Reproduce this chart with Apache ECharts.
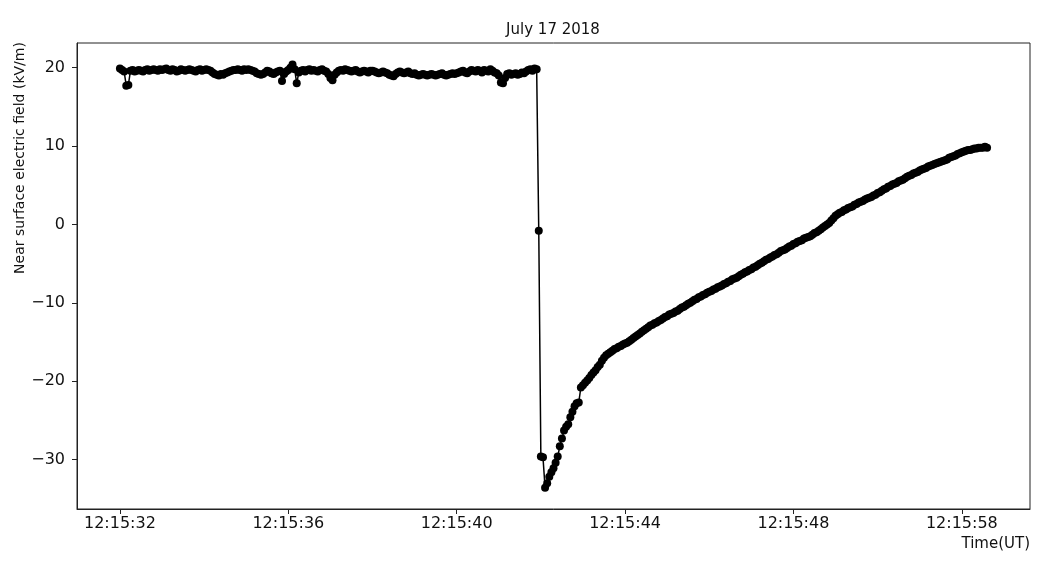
<!DOCTYPE html>
<html><head><meta charset="utf-8">
<script src="https://cdn.jsdelivr.net/npm/echarts@6/dist/echarts.min.js"></script>
<style>html,body{margin:0;padding:0;background:#fff}#c{width:1037px;height:570px}</style>
</head><body><div id="c"></div>
<script>
// seconds after 12:15:32 UT between consecutive samples
const sampleStep = 0.05;
const xTickValues = [0, 4, 8, 12, 16, 20];
const xTickLabels = ['12:15:32', '12:15:36', '12:15:40', '12:15:44', '12:15:48', '12:15:58'];
const yTickValues = [-30, -20, -10, 0, 10, 20];

// field (kV/m) before the flash
const preStrikeValues = [
  19.9, 19.7, 19.5, 17.7, 17.8, 19.6, 19.7, 19.5, 19.6, 19.7, 19.6, 19.5, 19.7, 19.8, 19.6, 19.7, 19.8, 19.7, 19.6, 19.8,
  19.7, 19.8, 19.9, 19.7, 19.6, 19.8, 19.7, 19.5, 19.6, 19.8, 19.7, 19.6, 19.7, 19.8, 19.7, 19.6, 19.5, 19.7, 19.8, 19.6,
  19.7, 19.8, 19.7, 19.6, 19.4, 19.2, 19.1, 19.0, 19.2, 19.1, 19.3, 19.4, 19.5, 19.6, 19.7, 19.7, 19.8, 19.7, 19.6, 19.8,
  19.7, 19.8, 19.7, 19.6, 19.5, 19.3, 19.2, 19.1, 19.2, 19.4, 19.6, 19.5, 19.3, 19.2, 19.4, 19.5, 19.6, 18.3, 19.2, 19.5,
  19.7, 20.0, 20.4, 19.8, 18.0, 19.4, 19.6, 19.7, 19.5, 19.7, 19.8, 19.6, 19.7, 19.6, 19.5, 19.7, 19.8, 19.6, 19.5, 19.2,
  18.7, 18.4, 19.1, 19.4, 19.6, 19.7, 19.6, 19.8, 19.7, 19.6, 19.5, 19.6, 19.7, 19.5, 19.4, 19.5, 19.6, 19.5, 19.4, 19.6,
  19.6, 19.5, 19.4, 19.3, 19.4, 19.5, 19.4, 19.3, 19.1, 19.0, 18.9, 19.2, 19.4, 19.5, 19.4, 19.3, 19.4, 19.5, 19.3, 19.2,
  19.3, 19.1, 19.0, 19.1, 19.2, 19.1, 19.0, 19.1, 19.2, 19.1, 19.0, 19.1, 19.2, 19.3, 19.1, 19.0, 19.1, 19.2, 19.3, 19.2,
  19.3, 19.4, 19.5, 19.6, 19.4, 19.3, 19.5, 19.7, 19.6, 19.5, 19.7, 19.6, 19.4, 19.7, 19.6, 19.5, 19.8, 19.6, 19.4, 19.3,
  19.0, 18.1, 18.0, 18.7, 19.2, 19.3, 19.1, 19.2, 19.3, 19.1, 19.2, 19.4, 19.3, 19.5, 19.7, 19.8, 19.6, 19.9, 19.8
];
// field change during the flash
const dropValues = [-0.8, -29.6, -29.7];
// recovery after the flash
const recoveryValues = [
  -33.6, -33.0, -32.2, -31.6, -31.1, -30.4, -29.6, -28.3, -27.3, -26.3,
  -25.8, -25.5, -24.6, -23.9, -23.2, -22.8, -22.7, -20.8, -20.5, -20.2,
  -19.9, -19.6, -19.2, -18.9, -18.6, -18.2, -17.9, -17.4, -17.0, -16.7,
  -16.5, -16.3, -16.1, -15.9, -15.8, -15.6, -15.5, -15.3, -15.2, -15.1,
  -14.9, -14.7, -14.5, -14.3, -14.1, -13.9, -13.7, -13.5, -13.3, -13.1,
  -12.9, -12.8, -12.6, -12.5, -12.3, -12.2, -12.0, -11.8, -11.7, -11.5,
  -11.4, -11.3, -11.1, -11.0, -10.8, -10.6, -10.5, -10.3, -10.1, -10.0,
  -9.8, -9.6, -9.5, -9.3, -9.2, -9.0, -8.9, -8.7, -8.6, -8.5,
  -8.3, -8.2, -8.0, -7.9, -7.8, -7.6, -7.5, -7.3, -7.2, -7.0,
  -6.9, -6.8, -6.6, -6.4, -6.3, -6.1, -6.0, -5.8, -5.7, -5.5,
  -5.4, -5.2, -5.0, -4.9, -4.7, -4.5, -4.4, -4.2, -4.1, -3.9,
  -3.8, -3.6, -3.4, -3.3, -3.2, -3.0, -2.8, -2.7, -2.5, -2.4,
  -2.2, -2.1, -2.0, -1.8, -1.7, -1.6, -1.5, -1.3, -1.1, -1.0,
  -0.8, -0.6, -0.4, -0.2, 0.0, 0.2, 0.5, 0.8, 1.1, 1.3,
  1.5, 1.6, 1.8, 1.9, 2.1, 2.2, 2.3, 2.5, 2.6, 2.8,
  2.9, 3.0, 3.2, 3.3, 3.4, 3.5, 3.7, 3.8, 4.0, 4.1,
  4.3, 4.5, 4.6, 4.8, 4.9, 5.1, 5.2, 5.3, 5.5, 5.6,
  5.7, 5.9, 6.1, 6.2, 6.3, 6.5, 6.6, 6.7, 6.9, 7.0,
  7.1, 7.2, 7.4, 7.5, 7.6, 7.7, 7.8, 7.9, 8.0, 8.1,
  8.2, 8.3, 8.5, 8.6, 8.7, 8.8, 9.0, 9.1, 9.2, 9.3,
  9.4, 9.5, 9.5, 9.6, 9.7, 9.7, 9.8, 9.8, 9.8, 9.9, 9.8
];

const allValues = preStrikeValues.concat(dropValues, recoveryValues);
const seriesData = allValues.map((v, i) => [+(i * sampleStep).toFixed(3), v]);

const X_MIN = -1.02, X_MAX = 21.62, Y_MIN = -36.3, Y_MAX = 23.15;
const FONT = 'DejaVu Sans';
const chart = echarts.init(document.getElementById('c'), null, {renderer: 'canvas'});
chart.setOption({
  animation: false,
  backgroundColor: '#fff',
  grid: {left: 77, right: 7, top: 43, bottom: 61, show: true, borderColor: '#222', borderWidth: 1, containLabel: false},
  xAxis: {
    type: 'value', min: X_MIN, max: X_MAX, position: 'bottom',
    axisLine: {show: true, onZero: false, lineStyle: {color: '#222', width: 1}},
    splitLine: {show: false},
    axisTick: {show: true, inside: false, length: 5, lineStyle: {color: '#222', width: 1}, customValues: xTickValues},
    axisLabel: {
      customValues: xTickValues, fontFamily: FONT, fontSize: 16, color: '#111', margin: 7,
      formatter: v => xTickLabels[xTickValues.indexOf(Math.round(v))] || ''
    }
  },
  yAxis: {
    type: 'value', min: Y_MIN, max: Y_MAX, position: 'left',
    axisLine: {show: true, onZero: false, lineStyle: {color: '#222', width: 1}},
    splitLine: {show: false},
    axisTick: {show: true, inside: false, length: 5, lineStyle: {color: '#222', width: 1}, customValues: yTickValues},
    axisLabel: {
      customValues: yTickValues, fontFamily: FONT, fontSize: 16, color: '#111', margin: 12,
      formatter: v => (v < 0 ? '\u2212' + Math.abs(v) : String(v))
    }
  },
  graphic: [
    {id: 'title', type: 'text', x: 553, y: 30, style: {text: 'July 17 2018', fontFamily: FONT, fontSize: 15, fill: '#111', textAlign: 'center', textVerticalAlign: 'middle'}},
    {id: 'xname', type: 'text', x: 1030, y: 544, style: {text: 'Time(UT)', fontFamily: FONT, fontSize: 15, fill: '#111', textAlign: 'right', textVerticalAlign: 'middle'}},
    {id: 'yname', type: 'text', x: 20, y: 158, rotation: Math.PI / 2, style: {text: 'Near surface electric field (kV/m)', fontFamily: FONT, fontSize: 14, fill: '#111', textAlign: 'center', textVerticalAlign: 'middle'}}
  ],
  series: [{
    type: 'line',
    data: seriesData,
    showSymbol: true,
    showAllSymbol: true,
    symbol: 'circle',
    symbolSize: 8,
    itemStyle: {color: '#000'},
    lineStyle: {color: '#000', width: 1.5},
    emphasis: {disabled: true}
  }]
});
</script>
</body></html>
